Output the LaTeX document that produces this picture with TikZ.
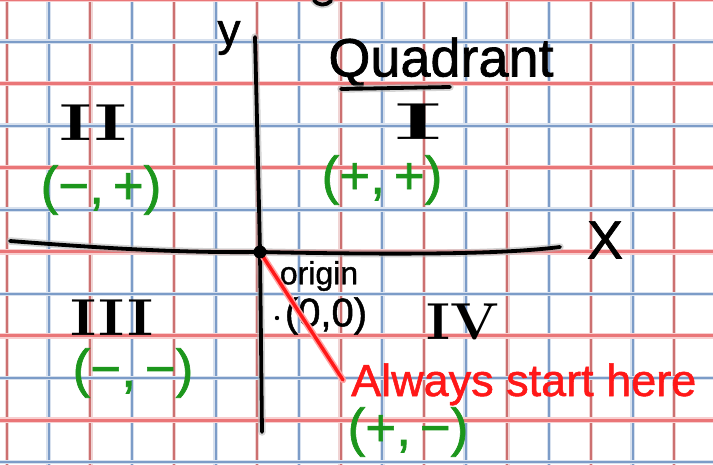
\documentclass[tikz,border=0pt]{standalone}
\usepackage{fontspec}
\usepackage{graphicx}
\setsansfont{Liberation Sans}[FakeBold=1.2]
\newcommand\myfs[1]{\fontsize{#1}{#1}\selectfont}
\definecolor{gRedH}{RGB}{234,118,120}
\definecolor{gRedV}{RGB}{204,112,112}
\definecolor{gBlue}{RGB}{124,156,200}
\definecolor{inkgreen}{RGB}{28,150,28}
\definecolor{inkred}{RGB}{255,24,24}
\begin{document}
\begin{tikzpicture}[x=1pt,y=-1pt,
  ink/.style={draw=black, line width=3.8, line cap=round, line join=round,
    preaction={draw=gray!60, line width=7.5, line cap=round, opacity=0.55}},
  redline/.style={draw=inkred, line width=3.4, line cap=round,
    preaction={draw=inkred!40, line width=6.5, line cap=round}},
  blk/.style={inner sep=0, text=black, font=\sffamily},
  gtxt/.style={inner sep=0, text=inkgreen, font=\sffamily\myfs{53}},
  numtxt/.style={inner sep=0, text=black, font=\rmfamily\bfseries\myfs{52}},
  rtxt/.style={inner sep=0, text=inkred, font=\sffamily\myfs{45}}]
\fill[white] (0,0) rectangle (713,465);
\useasboundingbox (0,0) rectangle (713,465);
% grid: vertical lines
\foreach \k in {0,...,16}{
  \ifodd\k \def\gcol{gBlue}\else\def\gcol{gRedV}\fi
  \draw[line width=4.5, draw=\gcol!30!white] ({7+41.7*\k},0) -- ({7+41.7*\k},465);
  \draw[line width=2, draw=\gcol] ({7+41.7*\k},0) -- ({7+41.7*\k},465);
}
% grid: horizontal lines
\foreach \k in {0,...,11}{
  \ifodd\k
    \draw[line width=4.5, draw=gBlue!30!white] (0,{-0.5+42.05*\k}) -- (713,{-0.5+42.05*\k});
    \draw[line width=2, draw=gBlue] (0,{-0.5+42.05*\k}) -- (713,{-0.5+42.05*\k});
  \else
    \draw[line width=5.5, draw=gRedH!35!white] (0,{-0.5+42.05*\k}) -- (713,{-0.5+42.05*\k});
    \draw[line width=3, draw=gRedH] (0,{-0.5+42.05*\k}) -- (713,{-0.5+42.05*\k});
  \fi
}
% axes
\coordinate (o) at (260,252);
\coordinate (xl) at (10,241);
\coordinate (xr) at (560,247);
\coordinate (yt) at (255,37);
\coordinate (yb) at (262,432);
\draw[ink] (xl) .. controls (100,248) and (180,253) .. (o)
  .. controls (450,256) and (520,252) .. (xr);
\draw[ink] (yt) .. controls (258,160) and (260,250) .. (o) -- (yb);
% small mark at top edge
\draw[ink] (314,0) .. controls (318,6) and (326,6) .. (331,1);
% axis labels
\node[blk, font=\sffamily\myfs{46}] (ylab) at (229,38) {y};
\node[blk, font=\sffamily\myfs{54}] (xlab) at (605,240) {X};
% title
\node[blk, font=\sffamily\myfs{54}] (quad) at (441,62) {Quadrant};
\draw[ink] (341,89) -- (450,87);
% quadrant numerals
\node[numtxt] (q1) at (418,122) {\scalebox{2.2}[1]{I}};
\node[numtxt] (q2) at (93,123) {\scalebox{1.5}[1]{II}};
\node[numtxt] (q3) at (112,318) {\scalebox{1.2}[1]{III}};
\node[numtxt] (q4) at (463,322) {\scalebox{1.1}[1]{IV}};
% signs
\node[gtxt] (s1) at (382,180) {(+,\,+)};
\node[gtxt] (s2) at (101,190) {(−,\,+)};
\node[gtxt] (s3) at (133,373) {(−,\,−)};
\node[gtxt] (s4) at (408,432) {(+,\,−)};
% origin
\node[blk, font=\sffamily\myfs{32}] (olab) at (319,276) {origin};
\node[blk, font=\sffamily\myfs{40}] (ozero) at (326,316) {(0,0)};
\fill[black] (277,318) circle (2.2);
% pointer
\node[rtxt, anchor=base west] (start) at (351,396) {Always start here};
\coordinate (rtip) at (343,380);
\draw[redline] (o) -- (rtip);
\fill[black] (o) circle (6.5);
\end{tikzpicture}
\end{document}
